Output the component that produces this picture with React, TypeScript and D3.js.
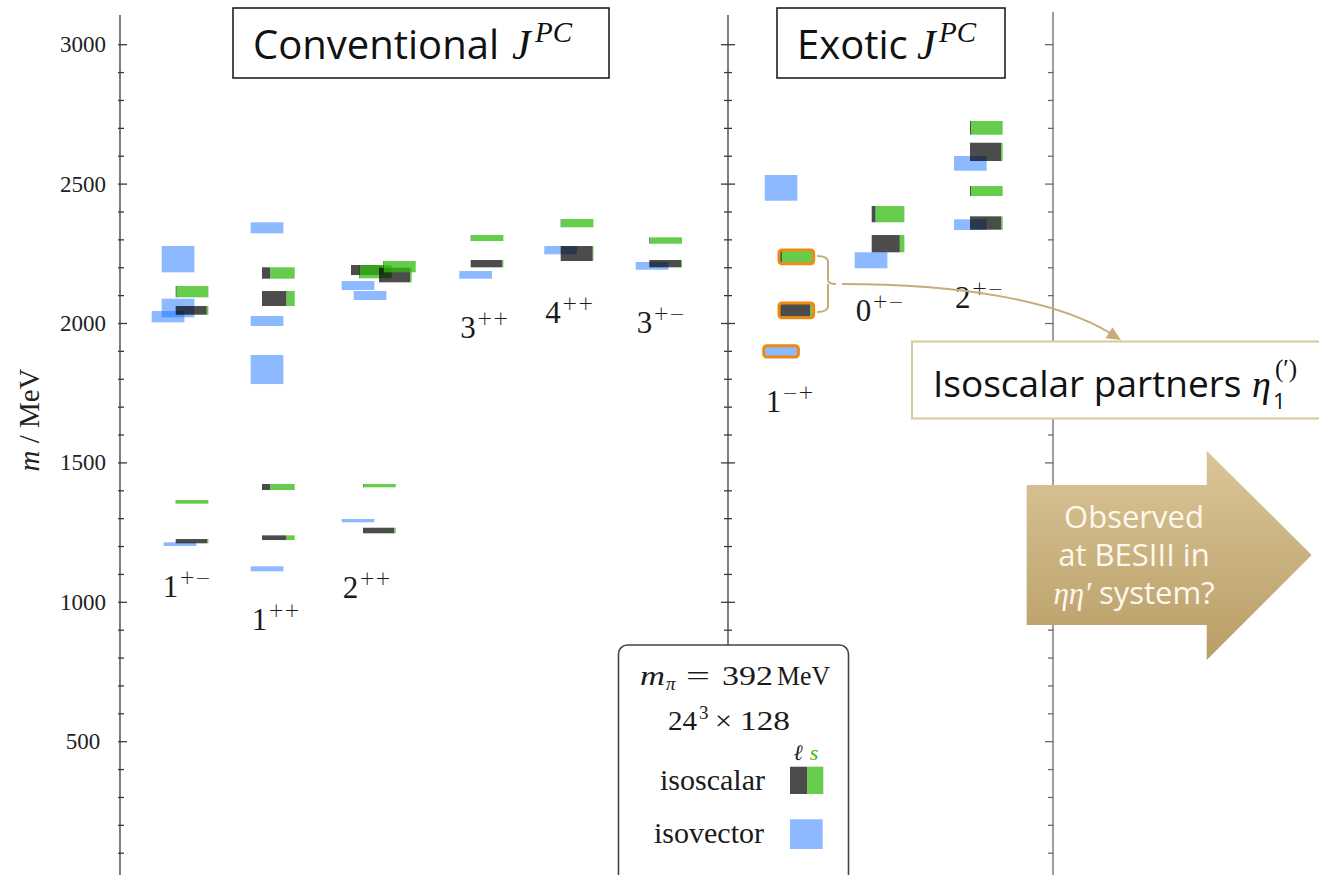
import React from "react";
import * as d3 from "d3";

// J^PC channels, conventional first, then exotic
const channels = ["1+-", "1++", "2++", "3++", "4++", "3+-", "1-+", "0+-", "2+-"];

// Isoscalar states: mass (MeV), half-height uncertainty, light-quark (ℓ) fraction, lane shift
const isoscalar = [
  { jpc: "1+-", mass: 2114.2, err: 20.3, light: 0.03 },
  { jpc: "1+-", mass: 2047.1, err: 15.6, light: 0.95 },
  { jpc: "1+-", mass: 1360.3, err: 6.6, light: 0.02 },
  { jpc: "1+-", mass: 1219.3, err: 7.7, light: 0.97 },
  { jpc: "1++", mass: 2181.1, err: 20.4, light: 0.25 },
  { jpc: "1++", mass: 2089.6, err: 26.9, light: 0.75 },
  { jpc: "1++", mass: 1413.5, err: 10.8, light: 0.25 },
  { jpc: "1++", mass: 1231.7, err: 8.4, light: 0.75 },
  { jpc: "2++", mass: 2191.8, err: 17.9, light: 0.95, lane: -3 },
  { jpc: "2++", mass: 2185.9, err: 23.9, light: 0.02, lane: -1 },
  { jpc: "2++", mass: 2173.9, err: 26.2, light: 0.95, lane: 4 },
  { jpc: "2++", mass: 2203.9, err: 20.3, light: 0.02, lane: 5 },
  { jpc: "2++", mass: 1418.4, err: 5.9, light: 0.02 },
  { jpc: "2++", mass: 1257.5, err: 10.0, light: 0.96 },
  { jpc: "3++", mass: 2306.6, err: 10.8, light: 0.02 },
  { jpc: "3++", mass: 2214.6, err: 13.1, light: 0.97 },
  { jpc: "4++", mass: 2359.9, err: 14.9, light: 0.02 },
  { jpc: "4++", mass: 2251.0, err: 26.9, light: 0.98 },
  { jpc: "3+-", mass: 2297.6, err: 11.5, light: 0.02 },
  { jpc: "3+-", mass: 2214.6, err: 13.1, light: 0.97 },
  { jpc: "1-+", mass: 2239.0, err: 21.0, light: 0.06, partner: true },
  { jpc: "1-+", mass: 2047.1, err: 22.8, light: 0.93, partner: true },
  { jpc: "0+-", mass: 2392.2, err: 29.2, light: 0.12 },
  { jpc: "0+-", mass: 2286.3, err: 31.0, light: 0.86 },
  { jpc: "2+-", mass: 2701.7, err: 24.6, light: 0.03 },
  { jpc: "2+-", mass: 2615.6, err: 32.8, light: 0.95 },
  { jpc: "2+-", mass: 2475.2, err: 17.9, light: 0.03 },
  { jpc: "2+-", mass: 2360.4, err: 24.0, light: 0.96 },
];

// Isovector states: mass (MeV), half-height uncertainty, lane shift
const isovector = [
  { jpc: "1+-", mass: 2230.8, err: 47.2 },
  { jpc: "1+-", mass: 2055.5, err: 33.4 },
  { jpc: "1+-", mass: 2024.5, err: 20.3, lane: -2.5 },
  { jpc: "1+-", mass: 1208.5, err: 6.6, lane: 0.5 },
  { jpc: "1++", mass: 2343.2, err: 19.7 },
  { jpc: "1++", mass: 2008.9, err: 17.9 },
  { jpc: "1++", mass: 1834.9, err: 52.0 },
  { jpc: "1++", mass: 1120.1, err: 9.0 },
  { jpc: "2++", mass: 2136.2, err: 16.1 },
  { jpc: "2++", mass: 2100.4, err: 16.1, lane: 3 },
  { jpc: "2++", mass: 1292.8, err: 5.9 },
  { jpc: "3++", mass: 2174.4, err: 13.8 },
  { jpc: "4++", mass: 2263.0, err: 14.9 },
  { jpc: "3+-", mass: 2206.7, err: 13.8 },
  { jpc: "1-+", mass: 2486.5, err: 46.1 },
  { jpc: "1-+", mass: 1900.0, err: 16.7, partner: true },
  { jpc: "0+-", mass: 2226.7, err: 28.7 },
  { jpc: "2+-", mass: 2574.4, err: 26.4 },
  { jpc: "2+-", mass: 2354.5, err: 19.2 },
];

const massTickLabels = [500, 1000, 1500, 2000, 2500, 3000];
const massTicks = d3.range(100, 3001, 100);

const W = 1319;
const H = 875;
const BOX_W = 32.7;
const LANE = 4;

const C_DARK = "#000";
const C_GREEN = "rgb(51,187,16)";
const C_BLUE = "rgb(26,115,255)";
const C_TAN = "#c6ad78";
const C_ORANGE = "#ee8a12";
const SERIF = "'Liberation Serif', 'Times New Roman', serif";
const SANS = "'Open Sans', 'Noto Sans', sans-serif";

const y = d3.scaleLinear().domain([0, 3000]).range([881.1, 44.7]);
const scalarX = d3
  .scaleOrdinal<string, number>()
  .domain(channels)
  .range([175.7, 262, 363, 470.7, 560.7, 649.3, 780, 871.7, 970]);
const vectorX = d3
  .scaleOrdinal<string, number>()
  .domain(channels)
  .range([161.7, 250.7, 341.7, 459.3, 544.3, 635.7, 764.7, 854.7, 954]);
const labelGap = d3
  .scaleOrdinal<string, number>()
  .domain(channels)
  .range([51, 59, 65, 59, 62, 63, 56, 53, 78]);

type Frame = { x: number; y1: number; y2: number; minL: number; minR: number; majL: number; majR: number; color: string };

function FrameLine({ f }: { f: Frame }) {
  const ticks = massTicks.filter((v) => y(v) >= f.y1 && y(v) <= f.y2);
  return (
    <g stroke={f.color} strokeWidth={1.3}>
      <line x1={f.x} x2={f.x} y1={f.y1} y2={f.y2} />
      {ticks.map((v) => {
        const major = v % 500 === 0;
        return (
          <line
            key={v}
            x1={f.x - (major ? f.majL : f.minL)}
            x2={f.x + (major ? f.majR : f.minR)}
            y1={y(v)}
            y2={y(v)}
          />
        );
      })}
    </g>
  );
}

function rectOf(jpc: string, mass: number, err: number, base: (j: string) => number, lane = 0) {
  const x0 = base(jpc) + lane * LANE;
  const y0 = y(mass + err);
  return { x: x0, y: y0, w: BOX_W, h: y(mass - err) - y0 };
}

function ChannelLabel({ jpc }: { jpc: string }) {
  const lows = [
    ...isoscalar.filter((s) => s.jpc === jpc).map((s) => s.mass - s.err),
    ...isovector.filter((s) => s.jpc === jpc).map((s) => s.mass - s.err),
  ];
  const baseY = y(d3.min(lows) as number) + labelGap(jpc);
  const x0 = vectorX(jpc) + 1;
  const pc = jpc.slice(1).replace(/-/g, "\u2212");
  return (
    <text x={x0} y={baseY} fontFamily={SERIF} fontSize={31} fill="#1a1a1a">
      {jpc[0]}
      <tspan fontFamily="'DejaVu Sans', sans-serif" fontWeight={300} fontSize={19} dx={1} dy={-13}>
        {pc}
      </tspan>
    </text>
  );
}

function arrowHead(tip: [number, number], from: [number, number], len: number, half: number) {
  const dx = tip[0] - from[0];
  const dy = tip[1] - from[1];
  const l = Math.hypot(dx, dy);
  const ux = dx / l;
  const uy = dy / l;
  const bx = tip[0] - ux * len;
  const by = tip[1] - uy * len;
  return `M${tip[0]},${tip[1]} L${bx - uy * half},${by + ux * half} L${bx + uy * half},${by - ux * half} Z`;
}

export default function App() {
  const frames: Frame[] = [
    { x: 120, y1: 15, y2: 875, minL: 2, minR: 4, majL: 2, majR: 7, color: "#3a3a3a" },
    { x: 728, y1: 15, y2: 645, minL: 4, minR: 4, majL: 7, majR: 7, color: "#3a3a3a" },
    { x: 1053, y1: 12, y2: 875, minL: 5, minR: 0.5, majL: 8, majR: 0.5, color: "#6a6a6a" },
  ];

  const curveEnd: [number, number] = [1110, 333];
  const curveCtrl: [number, number] = [1055, 300];
  const tip: [number, number] = [1121, 340];

  return (
    <svg
      width={W}
      height={H}
      viewBox={`0 0 ${W} ${H}`}
      style={{ position: "absolute", left: 0, top: 0, background: "#fff", display: "block" }}
    >
      <defs>
        <linearGradient id="blockArrowFill" x1="0" y1="0" x2="0" y2="1">
          <stop offset="0" stopColor="#dbc699" />
          <stop offset="1" stopColor="#b89e67" />
        </linearGradient>
      </defs>
      <rect width={W} height={H} fill="#fff" />

      {/* axis frames */}
      {frames.map((f, i) => (
        <FrameLine key={i} f={f} />
      ))}

      {/* mass axis labels */}
      {massTickLabels.map((v) => (
        <text
          key={v}
          x={83}
          y={y(v)}
          textAnchor="middle"
          dominantBaseline="central"
          fontFamily={SERIF}
          fontSize={23}
          fill="#222"
        >
          {v}
        </text>
      ))}
      <text
        transform="translate(29,420) rotate(-90)"
        textAnchor="middle"
        dominantBaseline="central"
        fontFamily={SERIF}
        fontSize={29}
        fill="#222"
      >
        <tspan fontStyle="italic">m</tspan> / MeV
      </text>

      {/* isovector states */}
      {isovector.map((s, i) => {
        const r = rectOf(s.jpc, s.mass, s.err, vectorX, s.lane ?? 0);
        return <rect key={i} x={r.x} y={r.y} width={r.w} height={r.h} fill={C_BLUE} fillOpacity={0.5} />;
      })}

      {/* isoscalar states: light (ℓ) part then strange (s) part */}
      {isoscalar.map((s, i) => {
        const r = rectOf(s.jpc, s.mass, s.err, scalarX, s.lane ?? 0);
        const wl = r.w * s.light;
        return (
          <g key={i}>
            <rect x={r.x} y={r.y} width={wl} height={r.h} fill={C_DARK} fillOpacity={0.7} />
            <rect x={r.x + wl} y={r.y} width={r.w - wl} height={r.h} fill={C_GREEN} fillOpacity={0.75} />
          </g>
        );
      })}

      {/* highlighted exotic 1-+ states */}
      {[
        ...isoscalar.filter((s) => s.partner).map((s) => rectOf(s.jpc, s.mass, s.err, scalarX, 0)),
        ...isovector.filter((s) => s.partner).map((s) => rectOf(s.jpc, s.mass, s.err, vectorX, 0)),
      ].map((r, i) => (
        <rect
          key={i}
          x={r.x - 1}
          y={r.y - 1}
          width={r.w + 2}
          height={r.h + 2}
          rx={3}
          fill="none"
          stroke={C_ORANGE}
          strokeWidth={3}
        />
      ))}

      {/* channel labels */}
      {channels.map((c) => (
        <ChannelLabel key={c} jpc={c} />
      ))}

      {/* section titles */}
      <rect x={233} y={8} width={376} height={70} fill="#fff" stroke="#111" strokeWidth={1.5} />
      <text x={253} y={59} fontFamily={SANS} fontSize={40} fill="#111">
        Conventional
      </text>
      <text x={512} y={59} fontFamily={SERIF} fontStyle="italic" fontSize={42} fill="#111">
        J
      </text>
      <text x={535} y={42} fontFamily={SERIF} fontStyle="italic" fontSize={29} fill="#111">
        PC
      </text>

      <rect x={777} y={8} width={228} height={70} fill="#fff" stroke="#111" strokeWidth={1.5} />
      <text x={797} y={59} fontFamily={SANS} fontSize={40} fill="#111">
        Exotic
      </text>
      <text x={917} y={59} fontFamily={SERIF} fontStyle="italic" fontSize={42} fill="#111">
        J
      </text>
      <text x={939} y={42} fontFamily={SERIF} fontStyle="italic" fontSize={29} fill="#111">
        PC
      </text>

      {/* bracket and curved pointer to the isoscalar partners */}
      <path
        d="M817,256 Q828,256 828,262 L828,280 Q828,284 836,284 M828,284 Q828,288 828,290 L828,306 Q828,312 817,312"
        fill="none"
        stroke={C_TAN}
        strokeWidth={2}
      />
      <path
        d={`M842,284 C960,284 ${curveCtrl[0]},${curveCtrl[1]} ${curveEnd[0]},${curveEnd[1]}`}
        fill="none"
        stroke={C_TAN}
        strokeWidth={2}
      />
      <path d={arrowHead(tip, curveCtrl, 14, 6.5)} fill={C_TAN} />

      <rect x={912} y={341.5} width={420} height={77} fill="#fff" stroke="#d8c79f" strokeWidth={2} />
      <text x={933} y={397} fontFamily={SANS} fontSize={37} fill="#111">
        Isoscalar partners
      </text>
      <text x={1252} y={397} fontFamily={SERIF} fontStyle="italic" fontSize={38} fill="#111">
        η
      </text>
      <text x={1273} y={409} fontFamily={SANS} fontSize={22} fill="#111">
        1
      </text>
      <text x={1275} y={377} fontFamily={SERIF} fontSize={25} fill="#111">
        (′)
      </text>

      {/* block arrow */}
      <path
        d="M1026.7,485 L1206.7,485 L1206.7,450.7 L1311.7,555 L1206.7,660 L1206.7,625 L1026.7,625 Z"
        fill="url(#blockArrowFill)"
      />
      <g fontFamily={SANS} fontSize={31} fill="#fdf8ec" textAnchor="middle">
        <text x={1134} y={528}>Observed</text>
        <text x={1134} y={566}>at BESIII in</text>
        <text x={1134} y={604}>
          <tspan fontFamily={SERIF} fontStyle="italic">ηη′</tspan> system?
        </text>
      </g>

      {/* legend */}
      <rect x={618.5} y={645} width={230} height={260} rx={9} fill="#fff" stroke="#444" strokeWidth={1.6} />
      <g fontFamily={SERIF} fill="#1a1a1a" fontSize={28}>
        <text x={640} y={685} fontStyle="italic" textLength={25} lengthAdjust="spacingAndGlyphs">m</text>
        <text x={666} y={690} fontStyle="italic" fontSize={19}>π</text>
        <text x={686} y={685} textLength={24} lengthAdjust="spacingAndGlyphs">=</text>
        <text x={722} y={685} textLength={51} lengthAdjust="spacingAndGlyphs">392</text>
        <text x={777} y={685} textLength={53} lengthAdjust="spacingAndGlyphs">MeV</text>

        <text x={668} y={730} textLength={29} lengthAdjust="spacingAndGlyphs">24</text>
        <text x={699} y={719} fontSize={19}>3</text>
        <text x={715} y={730} textLength={17} lengthAdjust="spacingAndGlyphs">×</text>
        <text x={740} y={730} textLength={50} lengthAdjust="spacingAndGlyphs">128</text>

        <text x={798} y={760} textAnchor="middle" fontSize={22} fontStyle="italic">ℓ</text>
        <text x={814} y={760} textAnchor="middle" fontSize={22} fontStyle="italic" fill={C_GREEN}>s</text>
        <text x={765} y={790} textAnchor="end" fontSize={30}>isoscalar</text>
        <text x={764} y={843} textAnchor="end" fontSize={30}>isovector</text>
      </g>
      <rect x={790} y={766.7} width={17.3} height={27.3} fill={C_DARK} fillOpacity={0.7} />
      <rect x={807.3} y={766.7} width={16} height={27.3} fill={C_GREEN} fillOpacity={0.75} />
      <rect x={790} y={819.3} width={32.7} height={29.7} fill={C_BLUE} fillOpacity={0.5} />
    </svg>
  );
}
